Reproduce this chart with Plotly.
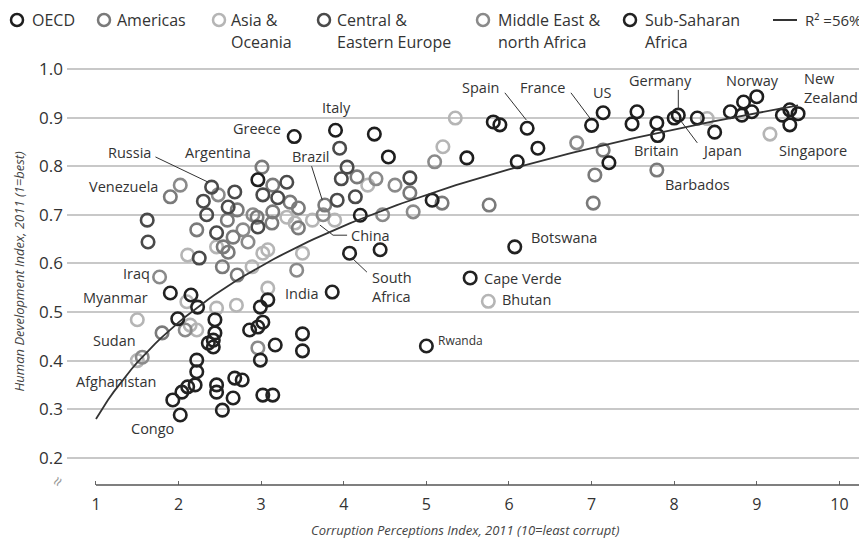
import numpy as np
import plotly.graph_objects as go

# ---------------- data (CPI 2011, HDI 2011) ----------------
oecd_cpi = [3.40, 3.90, 4.37, 4.54, 4.20, 5.49, 5.81, 5.89, 6.22, 6.10, 6.35, 7.00, 7.14,
            7.21, 7.49, 7.55, 7.79, 7.80, 8.05, 8.00, 8.28, 8.49, 8.68, 8.82, 8.84, 8.94,
            9.00, 9.31, 9.40, 9.40, 9.50, 2.96]
oecd_hdi = [0.861, 0.874, 0.866, 0.819, 0.699, 0.817, 0.891, 0.885, 0.878, 0.809, 0.837,
            0.884, 0.910, 0.807, 0.887, 0.912, 0.889, 0.863, 0.905, 0.899, 0.899, 0.870,
            0.912, 0.905, 0.932, 0.912, 0.943, 0.905, 0.885, 0.916, 0.908, 0.772]

americas_cpi = [1.90, 1.80, 3.01, 3.77, 7.79, 7.04, 7.02, 7.14, 5.76, 5.19, 4.80, 2.22,
                2.59, 2.71, 2.66, 2.60, 2.71, 2.54, 2.53, 3.14, 3.35, 3.45, 3.14, 3.45,
                2.95, 4.16, 3.13]
americas_hdi = [0.737, 0.457, 0.798, 0.720, 0.792, 0.782, 0.724, 0.833, 0.720, 0.724,
                0.745, 0.669, 0.689, 0.710, 0.654, 0.623, 0.576, 0.634, 0.593, 0.761,
                0.726, 0.714, 0.706, 0.673, 0.695, 0.778, 0.683]

asia_cpi = [1.50, 1.50, 2.11, 2.46, 2.89, 3.02, 3.08, 3.08, 3.50, 3.62, 3.31, 3.41, 3.89,
            4.29, 5.20, 5.35, 5.75, 8.40, 9.16, 2.14, 2.22, 2.10, 2.46, 2.70]
asia_hdi = [0.484, 0.400, 0.617, 0.634, 0.593, 0.621, 0.628, 0.549, 0.621, 0.689, 0.695,
            0.683, 0.689, 0.761, 0.840, 0.899, 0.522, 0.898, 0.866, 0.473, 0.463, 0.521,
            0.508, 0.514]

cee_cpi = [2.40, 2.30, 2.34, 2.60, 2.68, 2.46, 2.96, 2.25, 1.62, 1.63, 3.31, 4.80, 3.02,
           3.20, 3.95, 4.04, 3.97, 3.92, 4.14]
cee_hdi = [0.757, 0.728, 0.700, 0.716, 0.747, 0.663, 0.675, 0.611, 0.689, 0.644, 0.767,
           0.776, 0.741, 0.735, 0.837, 0.798, 0.774, 0.730, 0.737]

mena_cpi = [1.77, 2.02, 1.56, 2.48, 2.90, 2.84, 2.78, 3.43, 2.96, 4.39, 4.62, 4.47, 4.84,
            5.10, 6.82, 3.75, 2.08]
mena_hdi = [0.572, 0.761, 0.407, 0.741, 0.700, 0.644, 0.669, 0.586, 0.426, 0.774, 0.761,
            0.700, 0.706, 0.809, 0.848, 0.700, 0.463]

ssa_cpi = [6.07, 5.53, 5.00, 4.07, 4.44, 5.07, 3.86, 1.90, 2.15, 2.23, 1.99, 2.44, 2.44,
           2.42, 2.36, 2.42, 2.22, 2.22, 2.20, 2.11, 2.04, 1.93, 2.02, 2.46, 2.46, 2.68,
           2.77, 2.66, 2.53, 3.02, 3.14, 2.86, 2.96, 3.02, 2.99, 3.08, 2.99, 3.17, 3.50,
           3.50]
ssa_hdi = [0.634, 0.570, 0.430, 0.621, 0.628, 0.730, 0.541, 0.539, 0.535, 0.510, 0.486,
           0.484, 0.457, 0.442, 0.436, 0.428, 0.401, 0.377, 0.350, 0.346, 0.335, 0.319,
           0.288, 0.350, 0.335, 0.364, 0.360, 0.323, 0.298, 0.329, 0.329, 0.463, 0.469,
           0.479, 0.510, 0.525, 0.401, 0.432, 0.455, 0.420]

trend_intercept = 0.28      # fitted log curve, R² = 56%
trend_slope = 0.2865
trend_start, trend_end = 1.0, 9.5

x_ticks = [1, 2, 3, 4, 5, 6, 7, 8, 9, 10]
y_ticks = [0.2, 0.3, 0.4, 0.5, 0.6, 0.7, 0.8, 0.9, 1.0]
y_ticktext = ["0.2", "0.3", "0.4", "0.5", "0.6", "0.7", "0.8", "0.9", "1.0"]

groups = [
    ("OECD", oecd_cpi, oecd_hdi, "#1e1e1e"),
    ("Americas", americas_cpi, americas_hdi, "#7a7a7a"),
    ("Asia & Oceania", asia_cpi, asia_hdi, "#b5b5b5"),
    ("Central & Eastern Europe", cee_cpi, cee_hdi, "#4a4a4a"),
    ("Middle East & north Africa", mena_cpi, mena_hdi, "#8a8a8a"),
    ("Sub-Saharan Africa", ssa_cpi, ssa_hdi, "#222222"),
]

# ---------------- figure ----------------
# the page body has an 8px margin, so the figure is drawn 8px in from the window edge
OFF = 8
W, H = 867 - OFF, 540 - OFF
ML, MR, MT, MB = 67 - OFF, 5, 58 - OFF, 55
FONT = "Open Sans"
TXT = "#333333"


def px(xs):
    """window x pixel -> paper x"""
    return (xs - OFF - ML) / (W - ML - MR)


def py(ys):
    """window y pixel -> paper y"""
    return (H - MB - (ys - OFF)) / (H - MT - MB)


fig = go.Figure()
order = [2, 4, 1, 3, 0, 5]
for i in order:
    name, xs, ys, col = groups[i]
    fig.add_trace(go.Scatter(
        x=xs, y=ys, mode="markers", name=name, showlegend=False, hoverinfo="skip",
        marker=dict(symbol="circle-open", size=12.5, color=col, line=dict(width=2.6, color=col)),
    ))

tx = np.linspace(trend_start, trend_end, 120)
ty = trend_intercept + trend_slope * np.log(tx)
fig.add_trace(go.Scatter(x=tx, y=ty, mode="lines", showlegend=False, hoverinfo="skip",
                         line=dict(color="#333333", width=1.8)))

shapes = []
annotations = []

# x axis line starting at 1
shapes.append(dict(type="line", xref="x", yref="paper", x0=1, x1=10.274, y0=0, y1=0,
                   line=dict(color="#555555", width=1.5)))

# country labels
labels = [
    ("Russia", 1.69, 0.829, "right"),
    ("Argentina", 2.48, 0.829, "center"),
    ("Greece", 3.26, 0.877, "right"),
    ("Italy", 3.91, 0.920, "center"),
    ("Brazil", 3.60, 0.819, "center"),
    ("Venezuela", 1.775, 0.759, "right"),
    ("China", 4.06, 0.658, "left"),
    ("South<br>Africa", 4.32, 0.551, "left"),
    ("India", 3.26, 0.539, "left"),
    ("Iraq", 1.68, 0.580, "right"),
    ("Myanmar", 1.65, 0.529, "right"),
    ("Sudan", 1.51, 0.442, "right"),
    ("Afghanistan", 1.75, 0.358, "right"),
    ("Congo", 1.68, 0.261, "center"),
    ("Spain", 5.65, 0.961, "center"),
    ("France", 6.40, 0.961, "center"),
    ("US", 7.13, 0.951, "center"),
    ("Germany", 7.83, 0.977, "center"),
    ("Japan", 8.31, 0.833, "left"),
    ("Britain", 7.78, 0.833, "center"),
    ("Barbados", 7.86, 0.763, "left"),
    ("Norway", 8.95, 0.977, "center"),
    ("New<br>Zealand", 9.55, 0.960, "left"),
    ("Singapore", 9.24, 0.833, "left"),
    ("Botswana", 6.24, 0.654, "left"),
    ("Cape Verde", 5.67, 0.568, "left"),
    ("Bhutan", 5.89, 0.525, "left"),
]
for t, x, y, xa in labels:
    annotations.append(dict(text=t, x=x, y=y, xref="x", yref="y", xanchor=xa, yanchor="middle",
                            showarrow=False, align="left",
                            font=dict(family=FONT, size=14.5, color=TXT)))
annotations.append(dict(text="Rwanda", x=5.12, y=0.442, xref="x", yref="y", xanchor="left",
                        yanchor="middle", showarrow=False,
                        font=dict(family=FONT, size=12, color=TXT)))

# leader lines
leaders = [
    [(1.72, 0.819), (2.36, 0.767)],               # Russia
    [(3.61, 0.800), (3.74, 0.730)],               # Brazil
    [(3.71, 0.679), (3.87, 0.658), (4.04, 0.658)],  # China
    [(4.10, 0.611), (4.28, 0.582)],               # South Africa
    [(5.95, 0.951), (6.21, 0.895)],               # Spain
    [(6.75, 0.951), (6.98, 0.899)],               # France
    [(8.05, 0.957), (8.05, 0.916)],               # Germany
    [(8.28, 0.848), (8.09, 0.891)],               # Japan
]
for pts in leaders:
    path = "M " + " L ".join(f"{a},{b}" for a, b in pts)
    shapes.append(dict(type="path", xref="x", yref="y", path=path,
                       line=dict(color="#333333", width=1)))

# axis titles
annotations.append(dict(text="<i>Corruption Perceptions Index, 2011 (10=least corrupt)</i>",
                        x=px(465), y=py(530), xref="paper", yref="paper", showarrow=False,
                        xanchor="center", yanchor="middle",
                        font=dict(family=FONT, size=13, color="#444444")))
annotations.append(dict(text="<i>Human Development Index, 2011 (1=best)</i>",
                        x=px(18), y=0.5, xref="paper", yref="paper", showarrow=False,
                        textangle=-90, xanchor="center", yanchor="middle",
                        font=dict(family=FONT, size=13, color="#444444")))
# axis break mark
annotations.append(dict(text="≈", x=px(57), y=py(481), xref="paper", yref="paper",
                        showarrow=False, textangle=-60, xanchor="center", yanchor="middle",
                        font=dict(family=FONT, size=17, color="#999999")))

# legend (custom, top row)
legend_items = [
    (17, 30, ["OECD"], "#1e1e1e"),
    (104, 115, ["Americas"], "#7a7a7a"),
    (219, 229, ["Asia &", "Oceania"], "#b5b5b5"),
    (324, 335, ["Central &", "Eastern Europe"], "#4a4a4a"),
    (483, 496, ["Middle East &", "north Africa"], "#8a8a8a"),
    (630, 643, ["Sub-Saharan", "Africa"], "#222222"),
]
for mx, tx0, lines, col in legend_items:
    shapes.append(dict(type="circle", xref="paper", yref="paper", xsizemode="pixel",
                       ysizemode="pixel", xanchor=px(mx), yanchor=py(20),
                       x0=-6, x1=6, y0=-6, y1=6, line=dict(color=col, width=2.5)))
    for k, ln in enumerate(lines):
        annotations.append(dict(text=ln, x=px(tx0), y=py(20 + 22 * k), xref="paper",
                                yref="paper", showarrow=False, xanchor="left",
                                yanchor="middle",
                                font=dict(family=FONT, size=16, color=TXT)))
shapes.append(dict(type="line", xref="paper", yref="paper", x0=px(773), x1=px(797),
                   y0=py(20), y1=py(20), line=dict(color="#333333", width=2)))
annotations.append(dict(text="R² =56%", x=px(803), y=py(20), xref="paper", yref="paper",
                        showarrow=False, xanchor="left", yanchor="middle",
                        font=dict(family=FONT, size=15, color=TXT)))

fig.update_layout(
    width=W, height=H,
    margin=dict(l=ML, r=MR, t=MT, b=MB),
    paper_bgcolor="white", plot_bgcolor="white",
    shapes=shapes, annotations=annotations,
    xaxis=dict(range=[0.649, 10.274], tickvals=x_ticks, ticks="inside", ticklen=4,
               tickwidth=1, tickcolor="#666666", showgrid=False, showline=False,
               zeroline=False, ticklabelstandoff=8,
               tickfont=dict(family=FONT, size=16, color=TXT)),
    yaxis=dict(range=[0.144, 1.0226], tickvals=y_ticks, ticktext=y_ticktext,
               showgrid=True, gridcolor="#c8c8c8", gridwidth=1.5, zeroline=False,
               showline=False, ticks="", ticklabelstandoff=3,
               tickfont=dict(family=FONT, size=17, color=TXT)),
)

fig.write_html("out.html")
